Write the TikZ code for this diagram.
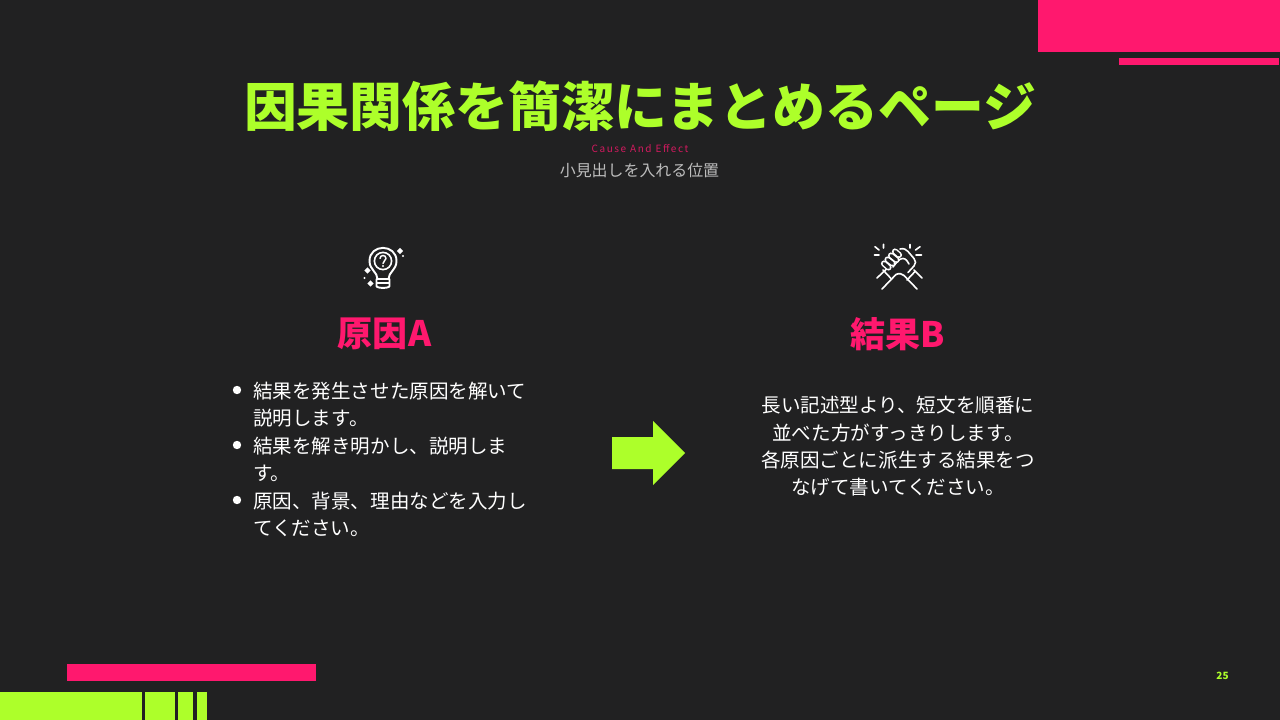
\documentclass[tikz,border=0pt]{standalone}
\usepackage{fontspec}
\setmainfont{Noto Sans CJK JP}
\definecolor{bgc}{HTML}{212122}
\definecolor{lime}{HTML}{ADFF2A}
\definecolor{pink}{HTML}{FF186E}
\definecolor{greyt}{HTML}{BDBDBD}
\tikzset{
 txt/.style={inner sep=0pt,text=white,font=\fontsize{14.65}{14.65}\selectfont},
 lft/.style={txt,anchor=west},
 head/.style={inner sep=0pt,text=pink,font=\fontsize{26.3}{26.3}\selectfont\bfseries},
 ico/.style={draw=white,line width=1.45pt,line cap=round,line join=round,fill=none},
 hnd/.style={draw=white,line width=1.2pt,line cap=round,line join=round,fill=none},
 fing/.style={draw=white,line width=4.6pt,line cap=round},
 fingin/.style={draw=bgc,line width=2.4pt,line cap=round}
}
\newcommand{\sparkle}[3]{\fill[white] (#1-#3,#2) -- (#1,#2-#3) -- (#1+#3,#2) -- (#1,#2+#3) -- cycle;}
\begin{document}
\begin{tikzpicture}[x=0.75pt,y=-0.75pt]
\useasboundingbox (0,0) rectangle (1280,720);
\fill[bgc] (0,0) rectangle (1280,720);
% corners
\fill[pink] (1038,0) rectangle (1280,52);
\fill[pink] (1119,58) rectangle (1279,65);
\fill[pink] (67,664) rectangle (316,681);
\fill[lime] (0,692) rectangle (142,720);
\fill[lime] (145,692) rectangle (175,720);
\fill[lime] (178,692) rectangle (193,720);
\fill[lime] (197,692) rectangle (206.5,720);
% titles
\node[inner sep=0pt,text=lime,font=\fontsize{39.65}{39.65}\selectfont\bfseries] (title) at (640,106) {因果関係を簡潔にまとめるページ};
\node[inner sep=0pt,text=pink,font=\fontsize{7.5}{7.5}\selectfont,text opacity=0.8] (en) at (640,148.5) {\addfontfeatures{LetterSpace=16}Cause And Effect};
\node[inner sep=0pt,text=greyt,font=\fontsize{11.95}{11.95}\selectfont] (sub) at (639.5,170) {小見出しを入れる位置};
% headings
\node[head] (hA) at (384.5,334) {原因A};
\node[head] (hB) at (898,334) {結果B};
% left list
\foreach \yy in {390,445,500} \fill[white] (237,\yy) circle (4.2);
\node[lft] (l1) at (253,391) {結果を発生させた原因を解いて};
\node[lft] (l2) at (253,418.5) {説明します。};
\node[lft] (l3) at (253,446) {結果を解き明かし、説明しま};
\node[lft] (l4) at (253,473.5) {す。};
\node[lft] (l5) at (253,501) {原因、背景、理由などを入力し};
\node[lft] (l6) at (253,528.5) {てください。};
% right text
\node[txt] (r1) at (898,405.5) {長い記述型より、短文を順番に};
\node[txt] (r2) at (898,433) {並べた方がすっきりします。};
\node[txt] (r3) at (898,460) {各原因ごとに派生する結果をつ};
\node[txt] (r4) at (898,487.5) {なげて書いてください。};
% arrow
\fill[lime] (612,437) -- (653,437) -- (653,421) -- (685,453) -- (653,485) -- (653,469) -- (612,469) -- cycle;
% bulb icon
\draw[ico] (377.5,279) .. controls (377.5,272) and (369.5,270) .. (369.5,261)
  .. controls (369.5,243.5) and (396.5,243.5) .. (396.5,261)
  .. controls (396.5,270) and (388.5,272) .. (388.5,279);
\draw[ico,line width=1.2pt] (383,261) circle (8.6);
\draw[ico] (376.5,279) -- (389.5,279) -- (389.5,286) .. controls (389.5,288.5) and (376.5,288.5) .. (376.5,286) -- cycle;
\draw[ico,line width=1.1pt] (377,283) -- (389,283);
\draw[ico,line width=1.1pt] (380,258.5) .. controls (380,254.5) and (386,254.5) .. (386,258.5) .. controls (386,260.5) and (383,261) .. (383,263.5);
\fill[white] (383,266) circle (1.1);
\sparkle{400}{251}{3.2}
\sparkle{367.5}{270.5}{3.2}
\sparkle{370.5}{283.5}{3.2}
\fill[white] (403,256) circle (1.1);
\fill[white] (364.5,278) circle (1.1);
% handshake icon
\draw[hnd] (875,246.7) -- (879,250) (883.5,244.3) -- (883.5,248) (874.3,255) -- (879,255);
\draw[hnd] (920,246.7) -- (915.5,250) (910,244.5) -- (910,248) (921.5,255) -- (916,255);
% arms
\draw[hnd] (877,278) -- (887,268.5) (882,289) -- (896,274.5);
\draw[hnd] (883,270) -- (891,278.5) ;
\draw[hnd] (917,289) -- (904,275.5) (922,278) -- (914,270);
\draw[hnd] (907,280) -- (915,271.5);
% right hand outline and wrist
\draw[hnd] (896,274.5) .. controls (899,273) and (902,273.5) .. (904,275.5);
\draw[hnd] (900,249) .. controls (904,248) and (906,249.5) .. (908,251.5) -- (914,258.5)
   .. controls (916,261) and (916,263.5) .. (914,266) -- (908,272.5);
\draw[hnd] (893,267) .. controls (897,262) and (899,258.5) .. (903,258.5) .. controls (906,258.5) and (908,262) .. (909,264);
% fingers
\foreach \ax/\ay/\bx/\by in {884/263.5/888.5/267.5,887.5/259.5/892.5/263.5,891/255.5/896.5/260,895/251.5/899/255}{
 \draw[fing] (\ax,\ay) -- (\bx,\by);
 \draw[fingin] (\ax,\ay) -- (\bx,\by);
}
% page
\node[inner sep=0pt,text=lime,font=\fontsize{7.5}{7.5}\selectfont\bfseries] (pg) at (1222.5,675.5) {25};
\end{tikzpicture}
\end{document}
